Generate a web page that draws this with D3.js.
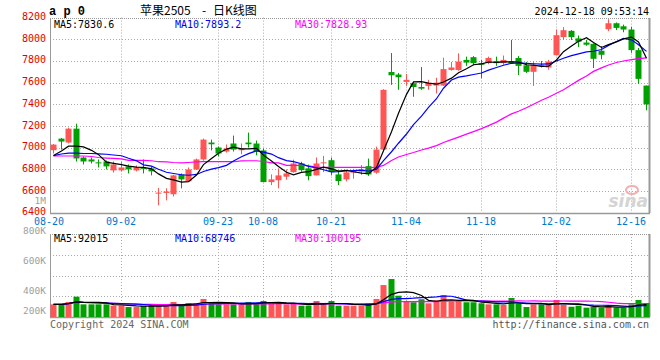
<!DOCTYPE html>
<html><head><meta charset="utf-8">
<script src="https://cdn.jsdelivr.net/npm/d3@7"></script>
<style>
html,body{margin:0;padding:0;background:#fff;}
svg{display:block;}
text{font-family:"DejaVu Sans Mono",monospace;font-size:10px;}
</style></head><body>
<svg id="c" width="660" height="360"></svg>
<script>
const dates = ["08-20","08-21","08-22","08-23","08-26","08-27","08-28","08-29","08-30",
"09-02","09-03","09-04","09-05","09-06","09-09","09-10","09-11","09-12","09-13","09-18","09-19","09-20",
"09-23","09-24","09-25","09-26","09-27","09-30",
"10-08","10-09","10-10","10-11","10-14","10-15","10-16","10-17","10-18","10-21","10-22","10-23","10-24","10-25",
"10-28","10-29","10-30","10-31","11-01","11-04","11-05","11-06","11-07","11-08","11-11","11-12","11-13","11-14","11-15",
"11-18","11-19","11-20","11-21","11-22","11-25","11-26","11-27","11-28","11-29",
"12-02","12-03","12-04","12-05","12-06","12-09","12-10","12-11","12-12","12-13","12-16","12-17","12-18"];
const open  = [6977,7084,7048,7176,6910,6892,6865,6873,6791,6791,6828,6791,6812,6809,6580,6583,6571,6754,6690,6800,
6892,7048,7002,6965,7039,6977,7048,7039,6975,6683,6700,6733,6775,6855,6810,6745,6860,6885,6754,6708,
6770,6780,6830,6770,6983,7698,7675,7607,7595,7560,7570,7573,7573,7717,7717,7810,7835,7780,7780,7797,
7780,7797,7827,7760,7700,7760,7740,7853,8020,8078,8008,7970,7958,7895,8093,8148,8120,8090,7900,7573];
const high  = [7035,7090,7185,7222,6920,6910,6892,6882,6873,6873,6846,6837,6892,6828,6630,6626,6750,6763,6818,6900,
7084,7075,7011,7030,7112,7039,7140,7066,6993,6754,6810,6800,6890,6870,6845,6910,6925,6910,6790,6795,
6805,6840,6900,7010,7540,7873,7690,7680,7605,7745,7626,7645,7830,7790,7870,7840,7845,7810,7840,7840,
7850,7995,7845,7790,7795,7800,7810,8090,8112,8085,8035,7995,7962,7937,8185,8155,8135,8115,7920,7573];
const low   = [6947,6983,7040,6873,6846,6855,6818,6800,6772,6782,6763,6782,6763,6745,6470,6515,6550,6626,6685,6795,
6880,6975,6920,6955,6965,6940,7002,6930,6683,6655,6625,6705,6770,6780,6700,6745,6775,6745,6655,6690,
6715,6750,6740,6760,6975,7580,7534,7570,7470,7534,7534,7500,7570,7710,7710,7755,7760,7640,7770,7755,
7765,7775,7670,7690,7570,7740,7720,7850,7993,7993,7928,7940,7735,7815,8075,8085,8065,7875,7590,7345];
const close = [7029,7057,7176,6901,6873,6873,6860,6828,6846,6818,6800,6818,6808,6782,6586,6596,6745,6708,6800,6892,
7075,7032,6947,6993,6983,6993,7032,6968,6683,6708,6745,6763,6855,6793,6738,6855,6865,6775,6693,6773,
6785,6800,6754,6983,7534,7668,7650,7626,7560,7545,7598,7600,7725,7740,7795,7785,7780,7765,7828,7780,
7810,7780,7755,7700,7763,7750,7795,8038,8084,8020,7977,7950,7820,7857,8148,8105,8090,7900,7635,7400];
const volume = [122,122,145,196,122,122,122,122,109,109,96,96,109,109,109,109,145,109,135,135,
174,145,122,122,122,122,145,135,154,135,135,122,125,109,109,154,125,154,109,109,
109,109,135,174,308,366,205,154,142,171,132,161,212,147,154,142,142,132,122,122,
116,183,132,96,122,122,122,164,116,99,109,90,99,90,109,90,90,122,164,135].map(v => v * 1000);
const ma5Head  = [6928,6970,7014,7014];
const ma10Head = [6928,6942,6951,6950,6947,6947,6944,6940,6933];
const ma30 = [6924,6924,6924,6924,6924,6919,6910,6905,6901,6898,6883,6883,6883,6880,6871,6869,6864,6861,6864,6869,
6871,6871,6871,6871,6871,6878,6880,6880,6873,6861,6860,6837,6837,6837,6834,6821,6818,6818,6818,6818,
6818,6818,6816,6818,6837,6883,6915,6938,6956,6979,6997,7020,7048,7075,7098,7126,7149,7176,7204,7236,
7273,7312,7337,7369,7401,7438,7465,7502,7534,7580,7621,7662,7704,7736,7763,7786,7800,7813,7822,7829];
const priceTicks = [8200,8000,7800,7600,7400,7200,7000,6800,6600,6400];
const volTicks = [1000000,800000,600000,400000,200000];
const volTickLabels = ["1M","800K","600K","400K","200K"];
const volGrid = [600000,400000,200000];
const dateTicks = ["08-20","09-02","09-23","10-08","10-21","11-04","11-18","12-02","12-16"];
const legendPrice = ["MA5:7830.6","MA10:7893.2","MA30:7828.93"];
const legendVol = ["MA5:92015","MA10:68746","MA30:100195"];
const titleParts = ["苹果2505", "-", "日K线图"];
const maColors = ["#000000","#0000ff","#ff00ff"];

const UP = "#ff5555", DOWN = "#00a000", GRID = "#aaaaaa", FRAME = "#999999";
const svg = d3.select("#c");
const x = d3.scaleBand().domain(dates).range([49.25, 649.75]);
const cx = d => Math.round(x(d) + x.bandwidth() / 2);
const y = d3.scaleLinear().domain([6400, 8200]).range([212.8, 17.6]);
const yv = d3.scaleLinear().domain([0, 800000]).range([317, 234]);
const yl = d3.scaleLinear().domain([200000, 1000000]).range([321, 201]);
const L = 50, R = 649;

// grid
const g = svg.append("g");
g.selectAll(".hg").data(priceTicks.slice(1, -1)).join("line")
  .attr("x1", L).attr("x2", R).attr("y1", d => Math.round(y(d)) + 0.5).attr("y2", d => Math.round(y(d)) + 0.5)
  .attr("stroke", GRID).attr("stroke-dasharray", "1,2");
g.selectAll(".vg").data(volGrid).join("line")
  .attr("x1", L).attr("x2", R).attr("y1", d => Math.round(yv(d)) + 0.5).attr("y2", d => Math.round(yv(d)) + 0.5)
  .attr("stroke", GRID).attr("stroke-dasharray", "1,2");
const vt = dateTicks.slice(1);
g.selectAll(".xg").data(vt).join("line")
  .attr("x1", d => cx(d) + 0.5).attr("x2", d => cx(d) + 0.5).attr("y1", y(8200)).attr("y2", y(6400))
  .attr("stroke", GRID).attr("stroke-dasharray", "1,2");
g.selectAll(".xg2").data(vt).join("line")
  .attr("x1", d => cx(d) + 0.5).attr("x2", d => cx(d) + 0.5).attr("y1", yv(800000)).attr("y2", yv(0))
  .attr("stroke", GRID).attr("stroke-dasharray", "1,2");

// watermark
const wm = svg.append("g");
wm.append("ellipse").attr("cx", 632).attr("cy", 190).attr("rx", 6).attr("ry", 4)
  .attr("fill", "none").attr("stroke", "#f2b0b0").attr("stroke-width", 2);
wm.append("text").attr("x", 648).attr("y", 207).attr("text-anchor", "end")
  .style("font-family", "DejaVu Sans").style("font-size", "17px").style("font-style", "italic").style("font-weight", "bold")
  .attr("fill", "#d4d4d4").text("sina");

// frames
const frame = (y0, y1) => {
  svg.append("line").attr("x1", L + 0.5).attr("x2", L + 0.5).attr("y1", y0).attr("y2", y1).attr("stroke", FRAME);
  svg.append("line").attr("x1", R + 0.5).attr("x2", R + 0.5).attr("y1", y0).attr("y2", y1).attr("stroke", FRAME).attr("stroke-width", 2);
  svg.append("line").attr("x1", L).attr("x2", R + 1).attr("y1", y0 + 0.5).attr("y2", y0 + 0.5).attr("stroke", FRAME).attr("stroke-dasharray", "1,1");
  svg.append("line").attr("x1", L).attr("x2", R + 1).attr("y1", y1 + 0.5).attr("y2", y1 + 0.5).attr("stroke", FRAME).attr("stroke-width", 1.5);
};
frame(Math.round(y(8200)), Math.round(y(6400)));
frame(Math.round(yv(800000)), Math.round(yv(0)));

// candles
const idx = d3.range(dates.length);
const cg = svg.append("g");
cg.selectAll(".wick").data(idx).join("line")
  .attr("x1", i => cx(dates[i]) + 0.5).attr("x2", i => cx(dates[i]) + 0.5)
  .attr("y1", i => y(high[i])).attr("y2", i => y(low[i]))
  .attr("stroke", i => close[i] >= open[i] ? UP : DOWN);
cg.selectAll(".body").data(idx).join("rect")
  .attr("x", i => cx(dates[i]) - 2.5).attr("width", 6)
  .attr("y", i => y(Math.max(open[i], close[i])))
  .attr("height", i => Math.max(1, Math.abs(y(open[i]) - y(close[i]))))
  .attr("fill", i => close[i] >= open[i] ? UP : DOWN);

// MA lines
const ma5 = close.map((c, i) => i < 4 ? ma5Head[i] : d3.mean(close.slice(i - 4, i + 1)));
const ma10 = close.map((c, i) => i < 9 ? ma10Head[i] : d3.mean(close.slice(i - 9, i + 1)));
const line = d3.line().x((d, i) => cx(dates[i]) + 0.5).y(d => y(d));
[ma30, ma10, ma5].forEach((s, k) => {
  svg.append("path").attr("d", line(s)).attr("fill", "none")
    .attr("stroke", maColors[2 - k]).attr("stroke-width", 1.2);
});

// volume
svg.append("g").selectAll("rect").data(idx).join("rect")
  .attr("x", i => cx(dates[i]) - 2.5).attr("width", 6)
  .attr("y", i => yv(volume[i])).attr("height", i => yv(0) - yv(volume[i]))
  .attr("fill", i => close[i] >= open[i] ? UP : DOWN);
const vma = n => volume.map((v, i) => d3.mean(volume.slice(Math.max(0, i - n + 1), i + 1)));
const vline = d3.line().x((d, i) => cx(dates[i]) + 0.5).y(d => yv(d));
[vma(30), vma(10), vma(5)].forEach((s, k) => {
  svg.append("path").attr("d", vline(s)).attr("fill", "none")
    .attr("stroke", maColors[2 - k]).attr("stroke-width", 1.2);
});

// axis labels
svg.append("g").selectAll("text").data(priceTicks).join("text")
  .attr("x", 46).attr("y", d => y(d) - 1).attr("dy", "0.35em").attr("text-anchor", "end")
  .attr("fill", "#e60000").text(d => d);
svg.append("g").selectAll("text").data(volTicks).join("text")
  .attr("x", 46).attr("y", d => Math.min(yl(d), 311)).attr("dy", "0.35em").attr("text-anchor", "end")
  .style("font-size", "9.5px").attr("fill", "#a0a0a0").text((d, i) => volTickLabels[i]);
svg.append("g").selectAll("text").data(dateTicks).join("text")
  .attr("x", (d, i) => i === 0 ? cx(d) - 4 : cx(d)).attr("y", 225).attr("text-anchor", "middle")
  .attr("fill", "#0078d0").text(d => d);

// legends
const lx = [54, 175, 295];
svg.append("g").selectAll("text").data(legendPrice).join("text")
  .attr("x", (d, i) => lx[i]).attr("y", 27.5).attr("fill", (d, i) => maColors[i]).text(d => d);
svg.append("g").selectAll("text").data(legendVol).join("text")
  .attr("x", (d, i) => lx[i]).attr("y", 242).attr("fill", (d, i) => maColors[i]).text(d => d);

// header
svg.append("text").attr("x", 49).attr("y", 15).style("font-family", "Liberation Mono").style("font-size", "12px")
  .style("font-weight", "bold").attr("fill", "#000").text("a p 0");
const titleX = [140, 202, 213];
svg.append("g").selectAll("text").data(titleParts).join("text")
  .attr("x", (d, i) => titleX[i]).attr("y", 14.5)
  .style("font-family", "Noto Sans CJK SC").style("font-size", "12px")
  .attr("fill", "#000").text(d => d);
svg.append("text").attr("x", 649).attr("y", 15).attr("text-anchor", "end").attr("fill", "#000").text("2024-12-18 09:53:14");
svg.append("text").attr("x", 50).attr("y", 327.5).attr("fill", "#666").text("Copyright 2024 SINA.COM");
svg.append("text").attr("x", 649).attr("y", 327.5).attr("text-anchor", "end").attr("fill", "#555").text("http://finance.sina.com.cn");
</script>
</body></html>
